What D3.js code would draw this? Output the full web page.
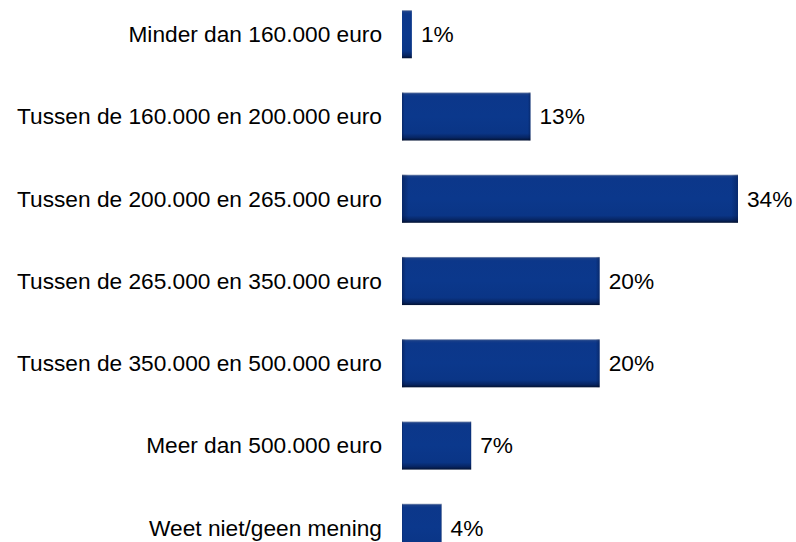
<!DOCTYPE html>
<html>
<head>
<meta charset="utf-8">
<script src="https://cdn.jsdelivr.net/npm/d3@7"></script>
<style>
  html, body { margin: 0; padding: 0; background: #ffffff; }
  svg { display: block; }
  text { font-family: "Liberation Sans", Arial, sans-serif; font-size: 22.7px; fill: #000; }
</style>
</head>
<body>
<svg id="chart" width="796" height="542"></svg>
<script>
// Answer categories (price ranges) and share of respondents in percent
const categories = [
  "Minder dan 160.000 euro",
  "Tussen de 160.000 en 200.000 euro",
  "Tussen de 200.000 en 265.000 euro",
  "Tussen de 265.000 en 350.000 euro",
  "Tussen de 350.000 en 500.000 euro",
  "Meer dan 500.000 euro",
  "Weet niet/geen mening"
];
const values = [1, 13, 34, 20, 20, 7, 4];
const valueLabels = ["1%", "13%", "34%", "20%", "20%", "7%", "4%"];

const W = 796, H = 542;
const svg = d3.select("#chart");

const x = d3.scaleLinear().domain([0, 34]).range([402, 738]);
const y = d3.scaleBand().domain(categories).range([-24, 586]).padding(0.415);

// Vertical shading for the bars: light top edge, dark bottom shadow
const defs = svg.append("defs");
const grad = defs.append("linearGradient")
  .attr("id", "barFill").attr("x1", 0).attr("y1", 0).attr("x2", 0).attr("y2", 1);
[
  [0, "#8e9cb8"], [0.03, "#1a3f88"], [0.08, "#0c378a"], [0.5, "#0b388c"],
  [0.85, "#0a3586"], [0.94, "#072563"], [1, "#031233"]
].forEach(([o, c]) => grad.append("stop").attr("offset", o).attr("stop-color", c));

const side = defs.append("linearGradient")
  .attr("id", "barSide").attr("x1", 0).attr("y1", 0).attr("x2", 1).attr("y2", 0);
[
  [0, "rgba(0,10,40,0.35)"], [0.02, "rgba(0,10,40,0)"],
  [0.98, "rgba(0,10,40,0)"], [1, "rgba(0,10,40,0.3)"]
].forEach(([o, c]) => side.append("stop").attr("offset", o).attr("stop-color", c));

const rows = svg.append("g").selectAll("g")
  .data(categories.map((c, i) => ({ c, v: values[i], l: valueLabels[i] })))
  .join("g");

rows.append("rect")
  .attr("x", x(0))
  .attr("y", d => y(d.c))
  .attr("width", d => x(d.v) - x(0))
  .attr("height", y.bandwidth())
  .attr("fill", "url(#barFill)");

rows.append("rect")
  .attr("x", x(0))
  .attr("y", d => y(d.c))
  .attr("width", d => x(d.v) - x(0))
  .attr("height", y.bandwidth())
  .attr("fill", "url(#barSide)");

// Category labels, right-aligned left of the bars
rows.append("text")
  .attr("x", 382)
  .attr("y", d => y(d.c) + y.bandwidth() / 2)
  .attr("dy", "0.35em")
  .attr("text-anchor", "end")
  .text(d => d.c);

// Percentage labels at the end of each bar
rows.append("text")
  .attr("x", d => x(d.v) + 9)
  .attr("y", d => y(d.c) + y.bandwidth() / 2)
  .attr("dy", "0.35em")
  .text(d => d.l);
</script>
</body>
</html>
